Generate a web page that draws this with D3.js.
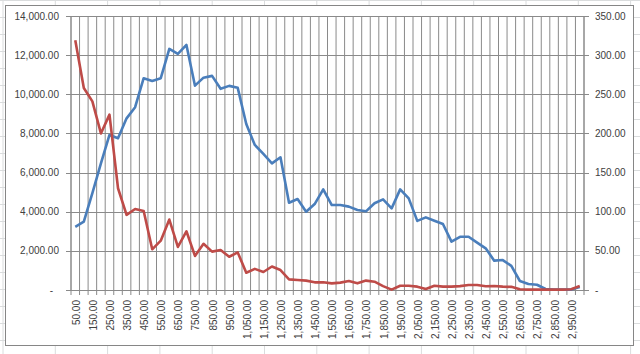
<!doctype html>
<html>
  <head>
    <meta charset="utf-8">
    <title>two axis line chart</title>
    <script src="https://d3js.org/d3.v7.min.js"></script>
    <style type="text/css">
      body { margin: 0; background: #fff; }
      svg { display: block; }
      text {
        font-family: "Liberation Sans", Arial, sans-serif;
        font-size: 10px;
        fill: #404040;
      }
    </style>
  </head>
  <body>
    <svg></svg>
    <script type="text/javascript">
      var w = 640,
        h = 354;

      // categorias del eje x
      var categories = [50, 100, 150, 200, 250, 300, 350, 400, 450, 500,
        550, 600, 650, 700, 750, 800, 850, 900, 950, 1000,
        1050, 1100, 1150, 1200, 1250, 1300, 1350, 1400, 1450, 1500,
        1550, 1600, 1650, 1700, 1750, 1800, 1850, 1900, 1950, 2000,
        2050, 2100, 2150, 2200, 2250, 2300, 2350, 2400, 2450, 2500,
        2550, 2600, 2650, 2700, 2750, 2800, 2850, 2900, 2950, 3000
      ];

      // serie azul (eje izquierdo)
      var blueValues = [3230, 3490, 4950, 6470, 7920, 7750, 8770, 9340, 10820, 10680,
        10820, 12320, 12060, 12520, 10440, 10850, 10940, 10280, 10430, 10330,
        8480, 7410, 6950, 6470, 6780, 4460, 4650, 4000, 4390, 5140,
        4340, 4340, 4260, 4090, 4020, 4430, 4630, 4170, 5140, 4680,
        3530, 3710, 3540, 3370, 2470, 2720, 2720, 2420, 2130, 1500,
        1530, 1230, 460, 310, 270, 50, 20, 20, 20, 150
      ];

      // serie roja (eje derecho)
      var redValues = [319, 258, 241, 200, 224, 130, 96, 103.5, 101, 52,
        63, 90, 55, 75, 43.5, 59, 49, 51, 42.5, 48,
        22, 27, 23, 30, 25.5, 13.6, 12.8, 12, 9.8, 9.8,
        8.5, 9.4, 11.5, 8.5, 12, 10.6, 5, 0.5, 5.5, 5.5,
        4.3, 1.3, 5.5, 4.3, 4.3, 5, 6.4, 6.4, 4.7, 5.1,
        4.3, 4, 1, 0.5, 0.5, 0.5, 0.5, 0.5, 1, 5
      ];

      var leftTicks = [0, 2000, 4000, 6000, 8000, 10000, 12000, 14000];
      var rightTicks = [0, 50, 100, 150, 200, 250, 300, 350];

      var svg = d3.select('svg')
        .attr('width', w)
        .attr('height', h);

      // cuadricula de la hoja de calculo detras del grafico
      var sheet = svg.append('g');
      sheet.selectAll('line.col')
        .data(d3.range(3, w, 52.3))
        .enter().append('line')
        .attr('x1', function(d) { return d; })
        .attr('x2', function(d) { return d; })
        .attr('y1', 0).attr('y2', h)
        .attr('stroke', '#dadcdd');
      sheet.selectAll('line.row')
        .data(d3.range(0, h, 17))
        .enter().append('line')
        .attr('y1', function(d) { return d + 0.5; })
        .attr('y2', function(d) { return d + 0.5; })
        .attr('x1', 0).attr('x2', w)
        .attr('stroke', '#dadcdd');

      // area del grafico
      svg.append('rect')
        .attr('x', 5.5).attr('y', 5.5)
        .attr('width', 628).attr('height', 340)
        .attr('fill', '#fff')
        .attr('stroke', '#868686');

      var pLeft = 71, pRight = 584, pTop = 16, pBottom = 290;

      var xScale = d3.scaleBand()
        .domain(categories)
        .range([pLeft, pRight])
        .padding(0);
      var yLeft = d3.scaleLinear()
        .domain([0, 14000])
        .range([pBottom, pTop]);
      var yRight = d3.scaleLinear()
        .domain([0, 350])
        .range([pBottom, pTop]);

      var gridColor = '#8a8a8a';

      // lineas verticales entre categorias
      var bounds = categories.map(function(c) { return xScale(c); }).concat([pRight]);
      svg.selectAll('line.vgrid')
        .data(bounds)
        .enter().append('line')
        .attr('x1', function(d) { return d; })
        .attr('x2', function(d) { return d; })
        .attr('y1', pTop)
        .attr('y2', pBottom + 5)
        .attr('stroke', gridColor)
        .attr('stroke-width', 1);

      // lineas horizontales
      svg.selectAll('line.hgrid')
        .data(leftTicks)
        .enter().append('line')
        .attr('x1', pLeft - 5)
        .attr('x2', pRight + 5)
        .attr('y1', function(d) { return Math.round(yLeft(d)) + 0.5; })
        .attr('y2', function(d) { return Math.round(yLeft(d)) + 0.5; })
        .attr('stroke', gridColor);

      // ejes verticales
      svg.append('line')
        .attr('x1', pLeft).attr('x2', pLeft)
        .attr('y1', pTop).attr('y2', pBottom)
        .attr('stroke', gridColor);
      svg.append('line')
        .attr('x1', pRight).attr('x2', pRight)
        .attr('y1', pTop).attr('y2', pBottom)
        .attr('stroke', gridColor);

      var fmt = d3.format(',.2f');

      // etiquetas izquierda
      svg.selectAll('text.yl')
        .data(leftTicks)
        .enter().append('text')
        .attr('x', function(d) { return d === 0 ? 53 : 59; })
        .attr('y', function(d) { return yLeft(d); })
        .attr('dy', '0.35em')
        .attr('text-anchor', 'end')
        .text(function(d) { return d === 0 ? '-' : fmt(d); });

      // etiquetas derecha
      svg.selectAll('text.yr')
        .data(rightTicks)
        .enter().append('text')
        .attr('x', 595)
        .attr('y', function(d) { return yRight(d); })
        .attr('dy', '0.35em')
        .attr('text-anchor', 'start')
        .text(function(d) { return d === 0 ? '-' : fmt(d); });

      // etiquetas del eje x (una si, una no)
      svg.selectAll('text.xl')
        .data(categories.filter(function(d, i) { return i % 2 === 0; }))
        .enter().append('text')
        .attr('transform', function(d) {
          return 'translate(' + (xScale(d) + xScale.bandwidth() / 2 + 1) + ',300) rotate(-90)';
        })
        .attr('dy', '0.35em')
        .attr('text-anchor', 'end')
        .text(function(d) { return fmt(d); });

      // series
      var blueLine = d3.line()
        .x(function(d, i) { return xScale(categories[i]) + xScale.bandwidth() / 2; })
        .y(function(d) { return yLeft(d); });
      var redLine = d3.line()
        .x(function(d, i) { return xScale(categories[i]) + xScale.bandwidth() / 2; })
        .y(function(d) { return yRight(d); });

      svg.append('path')
        .datum(blueValues)
        .attr('d', blueLine)
        .attr('fill', 'none')
        .attr('stroke', '#4a7ebb')
        .attr('stroke-width', 2.6)
        .attr('stroke-linejoin', 'round');

      svg.append('path')
        .datum(redValues)
        .attr('d', redLine)
        .attr('fill', 'none')
        .attr('stroke', '#be4b48')
        .attr('stroke-width', 2.6)
        .attr('stroke-linejoin', 'round');
    </script>
  </body>
</html>
